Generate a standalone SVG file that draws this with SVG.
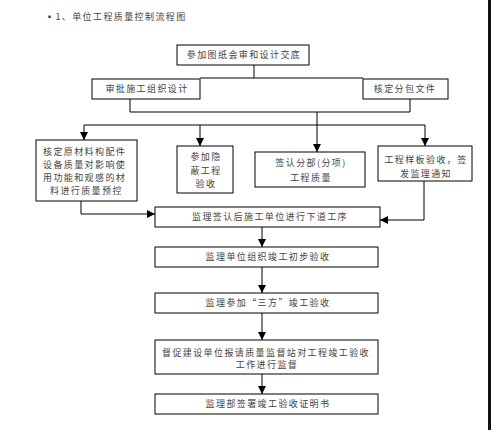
<svg xmlns="http://www.w3.org/2000/svg" width="493" height="430" viewBox="0 0 493 430">
<style>
.box{fill:#fff;stroke:#000;stroke-width:1}
.t{font-family:"Noto Sans CJK SC","Noto Sans",sans-serif;font-size:9px;fill:#444;letter-spacing:1.4px}
.c{text-anchor:middle}
.ln{fill:none;stroke:#000;stroke-width:1}
</style>
<defs>
<marker id="ah" viewBox="0 0 8 8" refX="8" refY="4" markerWidth="8" markerHeight="8" markerUnits="userSpaceOnUse" orient="auto">
<path d="M0,0 L8,4 L0,8 Z" fill="#000"/>
</marker>
</defs>
<rect width="493" height="430" fill="#fff"/>
<rect x="488" y="0" width="3" height="430" fill="#111"/>
<text class="t" x="45" y="20">▪1、单位工程质量控制流程图</text>

<g id="connectors">
<path class="ln" d="M254,65 V78 M200,78 H363"/>
<path class="ln" d="M130,99 V112 H410 V99"/>
<path class="ln" d="M84,125 H425"/>
<path class="ln" d="M317,112 V152" marker-end="url(#ah)"/>
<path class="ln" d="M84,125 V140" marker-end="url(#ah)"/>
<path class="ln" d="M200,125 V146" marker-end="url(#ah)"/>
<path class="ln" d="M425,125 V146" marker-end="url(#ah)"/>
<path class="ln" d="M81,201 V214 H155" marker-end="url(#ah)"/>
<path class="ln" d="M424,181 V220 H380" marker-end="url(#ah)"/>
<path class="ln" d="M262,227 V247" marker-end="url(#ah)"/>
<path class="ln" d="M262,267 V293" marker-end="url(#ah)"/>
<path class="ln" d="M262,313 V340" marker-end="url(#ah)"/>
<path class="ln" d="M262,374 V394" marker-end="url(#ah)"/>
</g>

<g id="n1"><rect class="box" x="177" y="45" width="132" height="20"/><text class="t c" x="244" y="58">参加图纸会审和设计交底</text></g>
<g id="n2"><rect class="box" x="92" y="79" width="108" height="20"/><text class="t c" x="147" y="92">审批施工组织设计</text></g>
<g id="n3"><rect class="box" x="363" y="79" width="85" height="20"/><text class="t c" x="405" y="92">核定分包文件</text></g>
<g id="n4"><rect class="box" x="36" y="140" width="101" height="61"/>
<text class="t" x="43" y="155">核定原材料构配件</text>
<text class="t" x="43" y="168">设备质量对影响使</text>
<text class="t" x="43" y="181">用功能和观感的材</text>
<text class="t" x="50" y="194">料进行质量预控</text></g>
<g id="n5"><rect class="box" x="177" y="146" width="56" height="47"/>
<text class="t c" x="206" y="160">参加隐</text>
<text class="t c" x="206" y="174">蔽工程</text>
<text class="t c" x="206" y="187">验收</text></g>
<g id="n6"><rect class="box" x="255" y="152" width="110" height="35"/>
<text class="t c" x="311" y="166">签认分部(分项)</text>
<text class="t c" x="311" y="181">工程质量</text></g>
<g id="n7"><rect class="box" x="378" y="146" width="94" height="35"/>
<text class="t c" x="426" y="163">工程样板验收，签</text>
<text class="t c" x="426" y="177">发监理通知</text></g>
<g id="n8"><rect class="box" x="155" y="207" width="225" height="20"/><text class="t c" x="270" y="220">监理签认后施工单位进行下道工序</text></g>
<g id="n9"><rect class="box" x="155" y="247" width="223" height="20"/><text class="t c" x="268" y="260">监理单位组织竣工初步验收</text></g>
<g id="n10"><rect class="box" x="155" y="293" width="223" height="20"/><text class="t c" x="268" y="306">监理参加“三方”竣工验收</text></g>
<g id="n11"><rect class="box" x="155" y="340" width="223" height="34"/>
<text class="t c" x="266" y="356">督促建设单位报请质量监督站对工程竣工验收</text>
<text class="t c" x="267" y="368">工作进行监督</text></g>
<g id="n12"><rect class="box" x="155" y="394" width="223" height="20"/><text class="t c" x="268" y="407">监理部签署竣工验收证明书</text></g>
</svg>
